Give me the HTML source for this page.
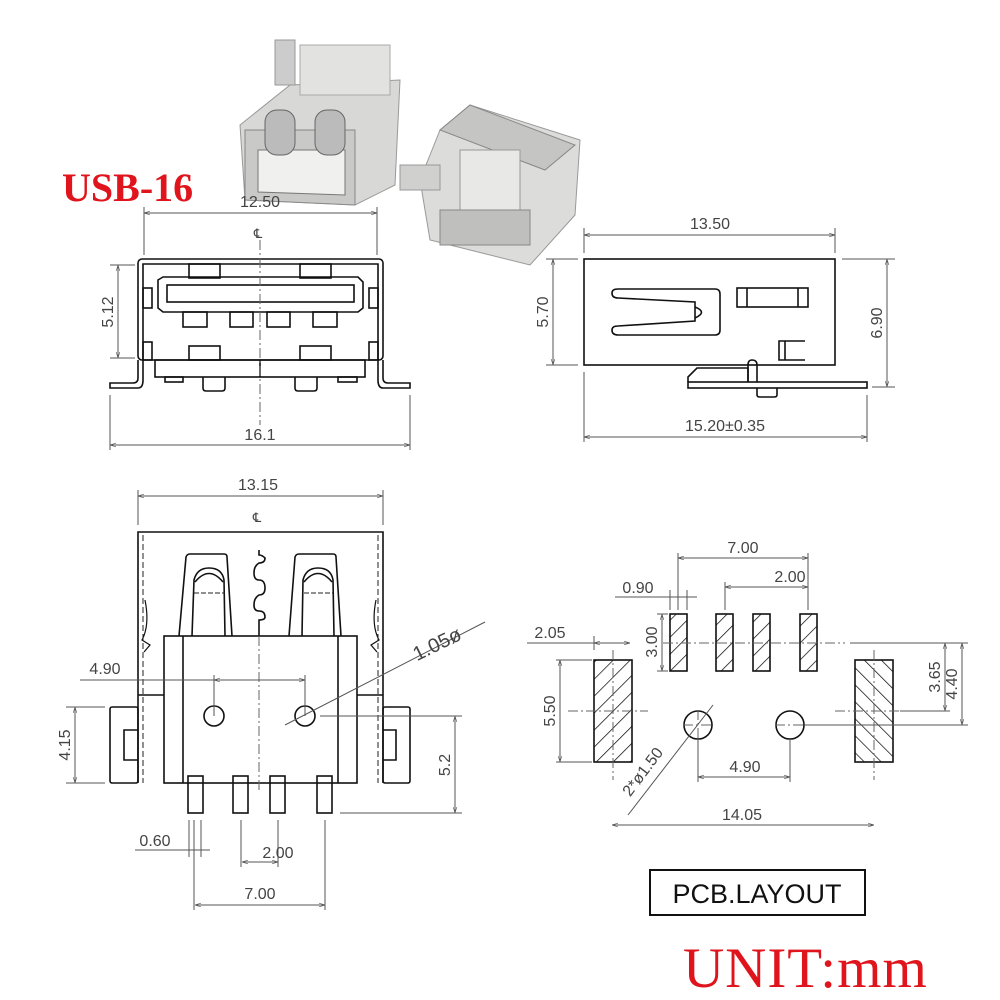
<!DOCTYPE html>
<html><head><meta charset="utf-8"><style>
html,body{margin:0;padding:0;background:#fff;}
svg{display:block;}
text{font-family:"Liberation Sans",sans-serif;fill:#444;}
</style></head><body>
<svg width="1000" height="1000" viewBox="0 0 1000 1000" xmlns="http://www.w3.org/2000/svg">
<defs>
<marker id="a" viewBox="0 0 10 10" refX="10" refY="5" markerWidth="6" markerHeight="6" orient="auto-start-reverse"><path d="M0,2 L10,5 L0,8" fill="none" stroke="#555" stroke-width="1"/></marker>
<pattern id="h" width="12" height="12" patternUnits="userSpaceOnUse" patternTransform="rotate(45)"><line x1="0" y1="0" x2="0" y2="12" stroke="#111" stroke-width="1.5"/></pattern>
<pattern id="h2" width="12" height="12" patternUnits="userSpaceOnUse" patternTransform="rotate(-45)"><line x1="0" y1="0" x2="0" y2="12" stroke="#111" stroke-width="1.5"/></pattern>
</defs>

<g>
<path d="M240,125 L290,85 L400,80 L395,185 L355,205 L245,200 Z" fill="#d8d8d6" stroke="#999"/>
<path d="M245,130 L355,130 L355,205 L245,200 Z" fill="#c9c9c7" stroke="#888"/>
<path d="M258,150 L345,150 L345,195 L258,192 Z" fill="#f0f0ee" stroke="#777"/>
<rect x="275" y="40" width="20" height="45" fill="#ccc" stroke="#999"/>
<rect x="300" y="45" width="90" height="50" fill="#e2e2e0" stroke="#aaa"/>
<rect x="265" y="110" width="30" height="45" rx="12" fill="#bbb" stroke="#666"/>
<rect x="315" y="110" width="30" height="45" rx="12" fill="#bbb" stroke="#666"/>
<path d="M440,130 L470,105 L580,140 L575,215 L530,265 L430,240 L420,180 Z" fill="#dcdcda" stroke="#999"/>
<path d="M440,130 L470,105 L575,145 L545,170 Z" fill="#c5c5c3" stroke="#888"/>
<rect x="460" y="150" width="60" height="70" fill="#e8e8e6" stroke="#999"/>
<rect x="400" y="165" width="40" height="25" fill="#d0d0ce" stroke="#999"/>
<rect x="440" y="210" width="90" height="35" fill="#bfbfbd" stroke="#888"/>
</g>

<text x="62" y="201" style="font-family:'Liberation Serif',serif;font-weight:bold;font-size:40px;fill:#e0141c">USB-16</text>

<g fill="none" stroke="#111" stroke-width="1.6">
<rect x="138" y="259" width="245" height="101" rx="4"/>
<path d="M143,360 V264 H378 V360"/>
<path d="M158,280 L163,277 H358 L363,282 V308 L358,312 H163 L158,308 Z"/>
<rect x="167" y="285" width="187" height="17"/>
<rect x="189" y="264" width="31" height="14"/><rect x="300" y="264" width="31" height="14"/>
<rect x="183" y="312" width="24" height="15"/><rect x="230" y="312" width="23" height="15"/><rect x="267" y="312" width="23" height="15"/><rect x="313" y="312" width="24" height="15"/>
<rect x="189" y="346" width="31" height="14"/><rect x="300" y="346" width="31" height="14"/>
<rect x="143" y="288" width="9" height="20"/><rect x="369" y="288" width="9" height="20"/>
<rect x="143" y="342" width="9" height="18"/><rect x="369" y="342" width="9" height="18"/>
<rect x="155" y="360" width="210" height="17"/><line x1="260" y1="360" x2="260" y2="377"/>
<path d="M138,360 V378 Q138,383 133,383 H110 V388 H138 Q143,388 143,380 V360"/>
<path d="M383,360 V378 Q383,383 388,383 H410 V388 H383 Q378,388 378,380 V360"/>
<rect x="165" y="377" width="18" height="5"/><rect x="338" y="377" width="19" height="5"/>
<path d="M203,377 V388 Q203,391 206,391 H222 Q225,391 225,388 V377"/>
<path d="M295,377 V388 Q295,391 298,391 H314 Q317,391 317,388 V377"/>

<rect x="584" y="259" width="251" height="106"/>
<path d="M618,289 H715 Q720,289 720,294 V330 Q720,335 715,335 H618 Q612,335 612,330 Q612,326 618,326 L695,321 V302 L618,298 Q612,298 612,293 Q612,289 618,289 Z"/>
<path d="M695,307 Q708,312 695,318"/>
<rect x="737" y="288" width="71" height="19"/><line x1="747" y1="288" x2="747" y2="307"/><line x1="798" y1="288" x2="798" y2="307"/>
<path d="M805,341 H779 V360 H805 M785,341 V360"/>
<path d="M688,382 V377 L697,368 H748 V382"/>
<path d="M748,382 V365 Q748,360 752,360 Q757,360 757,365 V382"/>
<rect x="688" y="382" width="179" height="6"/>
<path d="M757,388 V395 Q757,397 760,397 H774 Q777,397 777,395 V388"/>

<path d="M138,783 V532 H383 V783"/>
<rect x="110" y="707" width="28" height="76" rx="2"/><path d="M138,730 H124 V760 H138"/>
<rect x="383" y="707" width="27" height="76" rx="2"/><path d="M383,730 H396 V760 H383"/>
<path d="M138,695 H164 M357,695 H383"/>
<rect x="164" y="636" width="193" height="147"/>
<line x1="183" y1="636" x2="183" y2="783"/><line x1="338" y1="636" x2="338" y2="783"/>
<path d="M179,636 L186,557 Q187,554 190,554 H224 Q227,554 227,557 L232,636"/>
<path d="M192,636 L194,580 Q197,568 209,568 Q222,568 224,580 L225,636"/>
<path d="M195,582 Q209,565 223,582"/>
<path d="M289,636 L295,557 Q296,554 299,554 H333 Q336,554 336,557 L341,636"/>
<path d="M302,636 L303,580 Q306,568 318,568 Q331,568 333,580 L334,636"/>
<path d="M304,582 Q318,565 332,582"/>
<path d="M259,550 V555 Q262,555 265,558 Q265,563 259,563 Q254,566 254,573 Q254,580 259,580 Q265,580 265,588 Q265,595 259,595 Q254,598 254,605 Q254,611 259,611 Q265,611 265,617 Q265,620 259,620 V636"/>
<circle cx="214" cy="716" r="10"/><circle cx="305" cy="716" r="10"/>
<rect x="188" y="776" width="15" height="37"/><rect x="233" y="776" width="15" height="37"/><rect x="270" y="776" width="15" height="37"/><rect x="317" y="776" width="15" height="37"/>
<path d="M145,600 Q150,625 142,640 L150,645 L144,652 M376,600 Q371,625 379,640 L371,645 L377,652" stroke-width="1.2"/>

<rect x="670" y="614" width="17" height="57" fill="url(#h)"/>
<rect x="716" y="614" width="17" height="57" fill="url(#h)"/>
<rect x="753" y="614" width="17" height="57" fill="url(#h)"/>
<rect x="800" y="614" width="17" height="57" fill="url(#h)"/>
<rect x="594" y="660" width="38" height="102" fill="url(#h)"/>
<rect x="855" y="660" width="38" height="102" fill="url(#h2)"/>
<circle cx="698" cy="725" r="14"/><circle cx="790" cy="725" r="14"/>
<rect x="650" y="870" width="215" height="45" stroke-width="2"/>
</g>

<g stroke="#666" stroke-width="1" fill="none" stroke-dasharray="10,3,2,3">
<line x1="260" y1="240" x2="260" y2="425"/>
<line x1="143" y1="535" x2="143" y2="783" stroke="#222" stroke-dasharray="6,3"/>
<line x1="378" y1="535" x2="378" y2="783" stroke="#222" stroke-dasharray="6,3"/>
<line x1="259" y1="636" x2="259" y2="790"/>
<line x1="194" y1="593" x2="225" y2="593" stroke="#222" stroke-dasharray="5,2"/>
<line x1="304" y1="593" x2="333" y2="593" stroke="#222" stroke-dasharray="5,2"/>
<line x1="663" y1="643" x2="845" y2="643"/>
<line x1="613" y1="650" x2="613" y2="780"/><line x1="874" y1="650" x2="874" y2="780"/>
<line x1="568" y1="711" x2="648" y2="711"/><line x1="835" y1="711" x2="925" y2="711"/>
<line x1="683" y1="725" x2="713" y2="725"/><line x1="698" y1="710" x2="698" y2="740"/>
<line x1="775" y1="725" x2="805" y2="725"/>
</g>

<g stroke="#555" stroke-width="1" fill="none">
<path d="M144,207 V255 M377,207 V255"/><line x1="144" y1="213" x2="377" y2="213" marker-start="url(#a)" marker-end="url(#a)"/>
<path d="M110,265 H135 M110,358 H135"/><line x1="118" y1="265" x2="118" y2="358" marker-start="url(#a)" marker-end="url(#a)"/>
<path d="M110,395 V450 M410,395 V450"/><line x1="110" y1="445" x2="410" y2="445" marker-start="url(#a)" marker-end="url(#a)"/>
<path d="M584,228 V253 M835,228 V253"/><line x1="584" y1="235" x2="835" y2="235" marker-start="url(#a)" marker-end="url(#a)"/>
<path d="M546,259 H578 M546,365 H578"/><line x1="553" y1="259" x2="553" y2="365" marker-start="url(#a)" marker-end="url(#a)"/>
<path d="M842,259 H895 M872,387 H895"/><line x1="887" y1="259" x2="887" y2="387" marker-start="url(#a)" marker-end="url(#a)"/>
<path d="M584,372 V442 M867,395 V442"/><line x1="584" y1="437" x2="867" y2="437" marker-start="url(#a)" marker-end="url(#a)"/>
<path d="M138,490 V525 M383,490 V525"/><line x1="138" y1="496" x2="383" y2="496" marker-start="url(#a)" marker-end="url(#a)"/>
<line x1="80" y1="680" x2="305" y2="680"/><line x1="214" y1="680" x2="305" y2="680" marker-start="url(#a)" marker-end="url(#a)"/>
<path d="M214,675 V716 M305,675 V716"/>
<path d="M66,707 H105 M66,783 H105"/><line x1="75" y1="707" x2="75" y2="783" marker-start="url(#a)" marker-end="url(#a)"/>
<path d="M320,716 H462 M340,813 H462"/><line x1="455" y1="716" x2="455" y2="813" marker-start="url(#a)" marker-end="url(#a)"/>
<line x1="285" y1="725" x2="485" y2="622"/>
<path d="M189,820 V857 M194,820 V910 M201,820 V857 M241,820 V867 M278,820 V867 M325,820 V910"/>
<path d="M135,850 H210"/>
<line x1="242" y1="862" x2="278" y2="862" marker-start="url(#a)" marker-end="url(#a)"/>
<line x1="195" y1="905" x2="325" y2="905" marker-start="url(#a)" marker-end="url(#a)"/>
<path d="M678,553 V610 M808,553 V610 M725,582 V610 M670,590 V610 M687,590 V610"/>
<line x1="678" y1="558" x2="808" y2="558" marker-start="url(#a)" marker-end="url(#a)"/>
<line x1="725" y1="587" x2="808" y2="587" marker-start="url(#a)" marker-end="url(#a)"/>
<line x1="615" y1="597" x2="697" y2="597"/>
<path d="M657,614 H668 M657,671 H668"/><line x1="662" y1="614" x2="662" y2="671" marker-start="url(#a)" marker-end="url(#a)"/>
<line x1="527" y1="643" x2="630" y2="643"/><path d="M594,636 V650"/><line x1="594" y1="643" x2="630" y2="643" marker-start="url(#a)" marker-end="url(#a)"/>
<path d="M556,660 H592 M556,762 H592"/><line x1="560" y1="660" x2="560" y2="762" marker-start="url(#a)" marker-end="url(#a)"/>
<path d="M850,643 H968 M900,711 H950 M805,725 H968"/>
<line x1="945" y1="643" x2="945" y2="711" marker-start="url(#a)" marker-end="url(#a)"/>
<line x1="962" y1="643" x2="962" y2="725" marker-start="url(#a)" marker-end="url(#a)"/>
<path d="M698,740 V782 M790,740 V782"/><line x1="698" y1="777" x2="790" y2="777" marker-start="url(#a)" marker-end="url(#a)"/>
<line x1="612" y1="825" x2="874" y2="825" marker-start="url(#a)" marker-end="url(#a)"/>
<line x1="628" y1="815" x2="713" y2="705"/>
</g>

<g font-size="16">
<text x="260" y="207" text-anchor="middle">12.50</text>
<text x="258" y="238" text-anchor="middle" font-size="13">℄</text>
<text x="260" y="440" text-anchor="middle">16.1</text>
<text transform="translate(113,312) rotate(-90)" text-anchor="middle">5.12</text>
<text x="710" y="229" text-anchor="middle">13.50</text>
<text x="725" y="431" text-anchor="middle">15.20±0.35</text>
<text transform="translate(548,312) rotate(-90)" text-anchor="middle">5.70</text>
<text transform="translate(882,323) rotate(-90)" text-anchor="middle">6.90</text>
<text x="258" y="490" text-anchor="middle">13.15</text>
<text x="257" y="522" text-anchor="middle" font-size="13">℄</text>
<text x="105" y="674" text-anchor="middle">4.90</text>
<text transform="translate(440,650) rotate(-26)" text-anchor="middle" font-size="20">1.05ø</text>
<text transform="translate(70,745) rotate(-90)" text-anchor="middle">4.15</text>
<text transform="translate(450,765) rotate(-90)" text-anchor="middle">5.2</text>
<text x="155" y="846" text-anchor="middle">0.60</text>
<text x="278" y="858" text-anchor="middle">2.00</text>
<text x="260" y="899" text-anchor="middle">7.00</text>
<text x="743" y="553" text-anchor="middle">7.00</text>
<text x="790" y="582" text-anchor="middle">2.00</text>
<text x="638" y="593" text-anchor="middle">0.90</text>
<text x="550" y="638" text-anchor="middle">2.05</text>
<text transform="translate(657,642) rotate(-90)" text-anchor="middle">3.00</text>
<text transform="translate(555,711) rotate(-90)" text-anchor="middle">5.50</text>
<text transform="translate(940,677) rotate(-90)" text-anchor="middle">3.65</text>
<text transform="translate(957,684) rotate(-90)" text-anchor="middle">4.40</text>
<text x="745" y="772" text-anchor="middle">4.90</text>
<text x="742" y="820" text-anchor="middle">14.05</text>
<text transform="translate(647,775) rotate(-53)" text-anchor="middle">2*ø1.50</text>
</g>
<text x="757" y="903" text-anchor="middle" style="font-size:27px;fill:#111">PCB.LAYOUT</text>
<text x="683" y="987" style="font-family:'Liberation Serif',serif;font-size:57px;fill:#e0141c;letter-spacing:1px">UNIT:mm</text>
</svg>
</body></html>
